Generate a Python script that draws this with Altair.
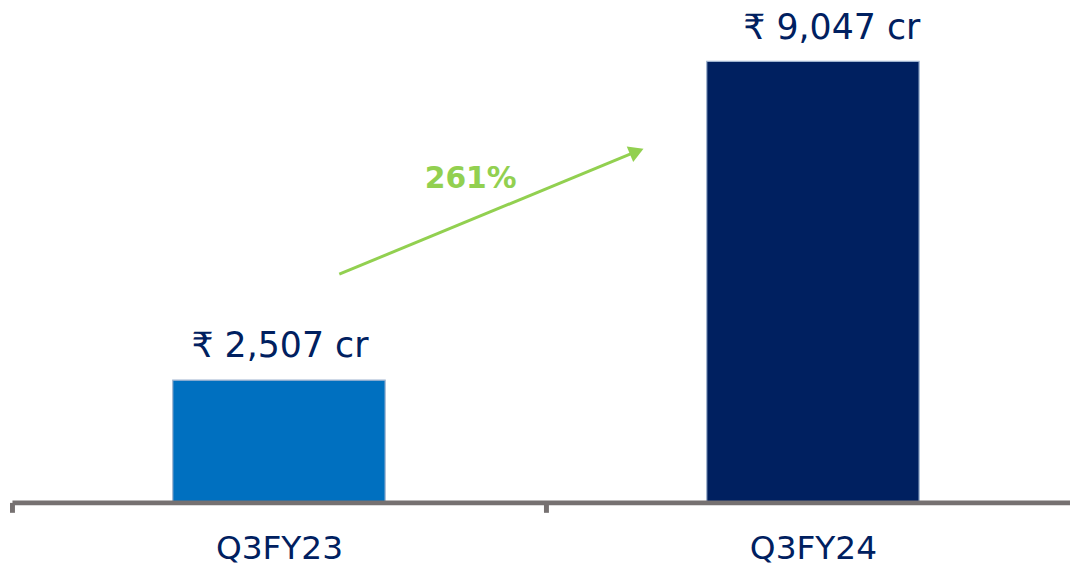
import altair as alt
import pandas as pd

# ---- data ----
categories = ["Q3FY23", "Q3FY24"]
values = [2507, 9047]
bar_colors = ["#0070C0", "#002060"]

# growth annotation (arrow drawn between the two bars, in data units)
arrow_from = ["Q3FY23"]
arrow_to = ["Q3FY24"]
arrow_y_start = [4683]
arrow_y_end = [7200]
growth_label_y = [6455]
growth_text = [f"{round((values[1] / values[0] - 1) * 100)}%"]

bars_df = pd.DataFrame({"cat": categories, "value": values, "color": bar_colors})
arrow_df = pd.DataFrame({
    "x0": arrow_from, "x1": arrow_to,
    "y0": arrow_y_start, "y1": arrow_y_end,
    "ly": growth_label_y, "label": growth_text,
})

NAVY = "#002060"
GREEN = "#92D050"
GRAY = "#767171"
FONT = "DejaVu Sans"

xscale = alt.Scale(domain=categories, paddingInner=0, paddingOuter=0, range=[0, 1076])
yscale = alt.Scale(domain=[0, 10100], nice=False, zero=True)

base = alt.Chart(bars_df)

bars = base.mark_bar(size=214, stroke="#9FB3CF", strokeWidth=1.2).encode(
    x=alt.X("cat:N", scale=xscale, sort=categories, title=None,
            axis=alt.Axis(
                labelAngle=0, labelFont=FONT, labelFontSize=33, labelColor=NAVY,
                labelBaseline="alphabetic", labelPadding=47,
                domainColor=GRAY, domainWidth=5,
                tickColor=GRAY, tickWidth=5, tickSize=10, tickBand="extent",
                zindex=1,
            )),
    y=alt.Y("value:Q", scale=yscale, axis=None),
    color=alt.Color("color:N", scale=None),
)


def value_label(cat, dx):
    return base.transform_filter(
        alt.datum.cat == cat
    ).transform_calculate(
        txt="'₹ ' + format(datum.value, ',') + ' cr'"
    ).mark_text(
        font=FONT, fontSize=35, color=NAVY, baseline="alphabetic",
        align="center", dy=-23, dx=dx
    ).encode(
        x=alt.X("cat:N"),
        y=alt.Y("value:Q"),
        text="txt:N",
    )


labels_a = value_label(categories[0], 1)
labels_b = value_label(categories[1], 19)

arr = alt.Chart(arrow_df)

arrow_line = arr.mark_rule(color=GREEN, strokeWidth=3).encode(
    x=alt.X("x0:N", bandPosition=0.613),
    x2=alt.X2("x1:N", bandPosition=0.17),
    y=alt.Y("y0:Q"),
    y2=alt.Y2("y1:Q"),
)

arrow_head = arr.mark_point(
    shape="triangle-up", filled=True, size=290, angle=67.5, color=GREEN, opacity=1
).encode(
    x=alt.X("x1:N", bandPosition=0.17),
    y=alt.Y("y1:Q"),
)

growth = arr.mark_text(
    font=FONT, fontSize=30, fontWeight="bold", color=GREEN,
    baseline="alphabetic", align="center"
).encode(
    x=alt.X("x0:N", bandPosition=0.859),
    y=alt.Y("ly:Q"),
    text="label:N",
)

chart = alt.layer(bars, labels_a, labels_b, arrow_line, arrow_head, growth).properties(
    width=1066, height=496,
    background="white",
    autosize=alt.AutoSizeParams(type="none"),
    padding={"left": 4, "top": 0, "right": 0, "bottom": 66},
).configure_view(strokeWidth=0, stroke="transparent")

chart.save("out.html", embed_options={"renderer": "svg", "actions": False})
